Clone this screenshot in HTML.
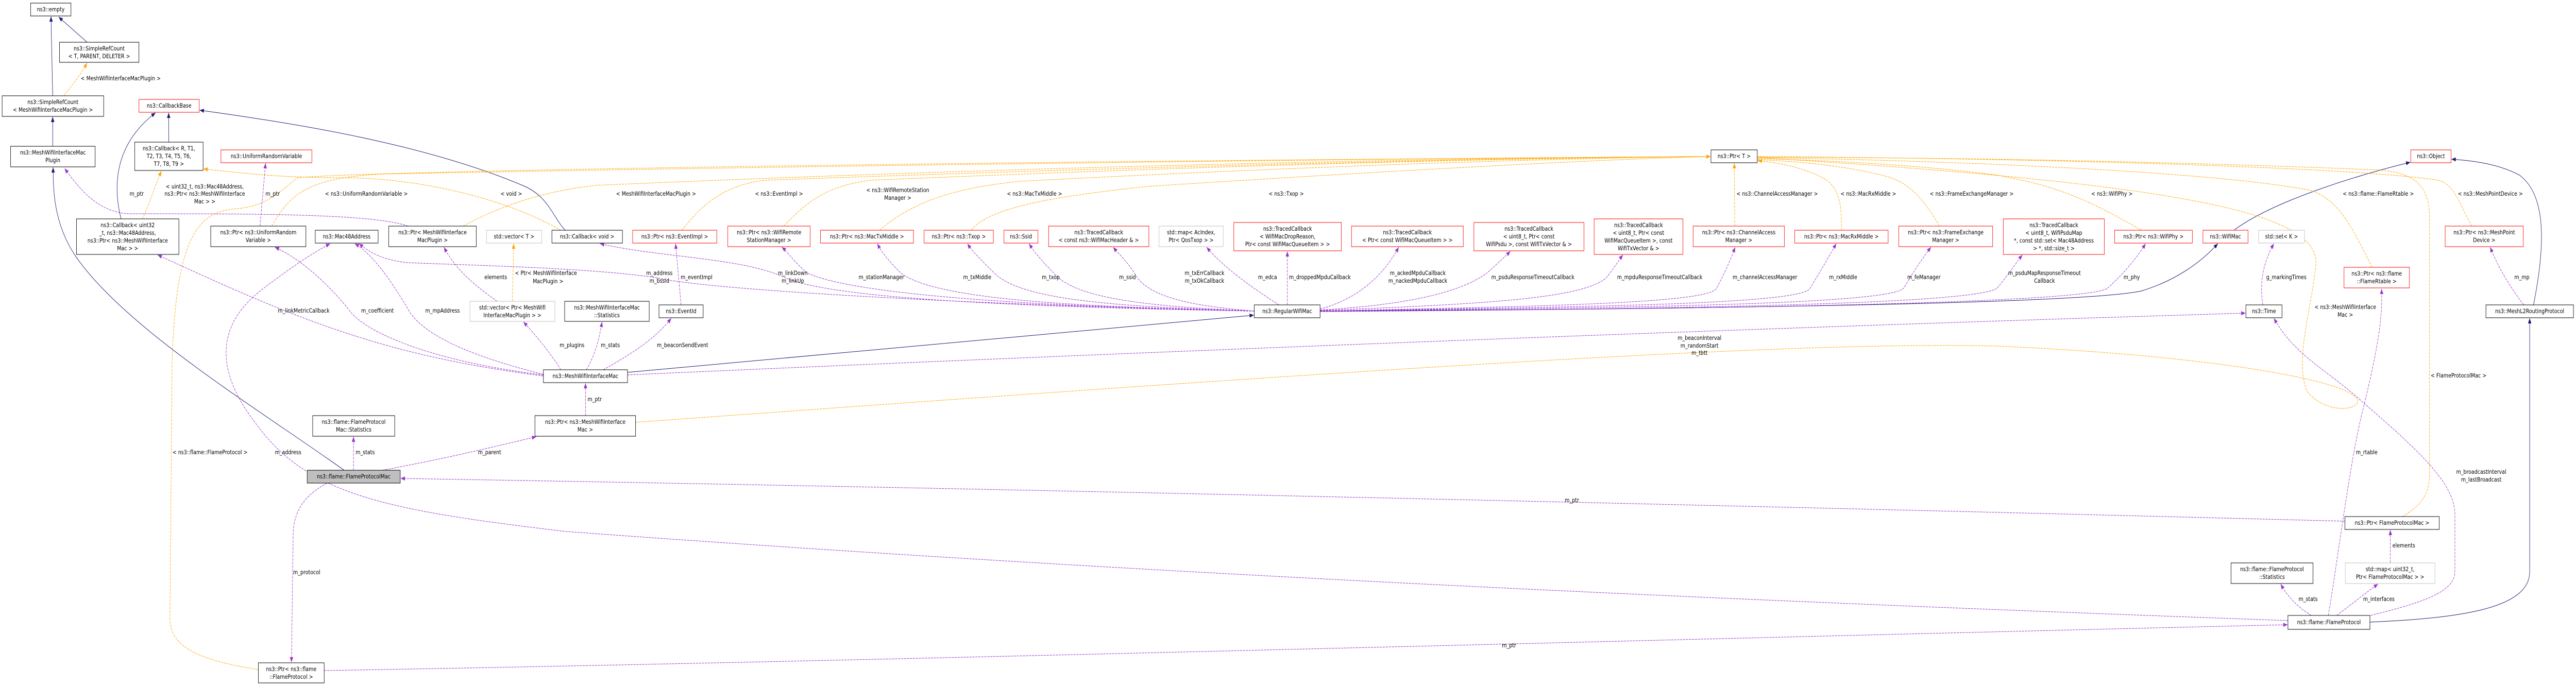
<!DOCTYPE html>
<html><head><meta charset="utf-8"><style>
html,body{margin:0;padding:0;background:#fff;overflow:hidden;width:100vw;height:100vh;}
svg{display:block;width:100vw;height:100vh;}
text{font-family:"DejaVu Sans","Liberation Sans",sans-serif;font-size:11.5px;fill:#000;}
.b{fill:#fff;stroke:#000;stroke-width:1}
.r{fill:#fff;stroke:#ff0000;stroke-width:1}
.g{fill:#fff;stroke:#bfbfbf;stroke-width:1}
.n{fill:none;stroke:#191970;stroke-width:1}
.o{fill:none;stroke:#ffa500;stroke-width:1;stroke-dasharray:5,2}
.p{fill:none;stroke:#9a32cd;stroke-width:1;stroke-dasharray:5,2}
</style></head><body>
<svg viewBox="0 0 6063 1332" preserveAspectRatio="none" xmlns="http://www.w3.org/2000/svg">
<defs>
<marker id="an" markerWidth="10" markerHeight="8" refX="10" refY="4" orient="auto" markerUnits="userSpaceOnUse"><path d="M0,0 L10,4 L0,8 z" fill="#191970"/></marker>
<marker id="ao" markerWidth="10" markerHeight="8" refX="10" refY="4" orient="auto" markerUnits="userSpaceOnUse"><path d="M0,0 L10,4 L0,8 z" fill="#ffa500"/></marker>
<marker id="ap" markerWidth="10" markerHeight="8" refX="10" refY="4" orient="auto" markerUnits="userSpaceOnUse"><path d="M0,0 L10,4 L0,8 z" fill="#9a32cd"/></marker>
</defs>

<g class="n">
<path d="M124,186 L120,32" marker-end="url(#an)"/>
<path d="M205,82 L138,33" marker-end="url(#an)"/>
<path d="M124,284 L124,227" marker-end="url(#an)"/>
<path d="M397,276 L397,219" marker-end="url(#an)"/>
<path d="M285,425 C265,360 270,280 366,219" marker-end="url(#an)"/>
<path d="M1330,447 C1300,420 1290,380 1230,360 C1000,280 700,240 470,214" marker-end="url(#an)"/>
<path d="M810,913 C600,790 300,640 180,500 C130,440 125,380 125,325" marker-end="url(#an)"/>
<path d="M1477,723 L2951,612" marker-end="url(#an)"/>
<path d="M3107,604 C4000,600 4900,590 5040,565 C5120,545 5180,510 5220,473" marker-end="url(#an)"/>
<path d="M5258,447 C5350,390 5550,340 5673,315" marker-end="url(#an)"/>
<path d="M5963,592 C5990,480 5995,380 5930,340 C5880,318 5820,312 5770,309" marker-end="url(#an)"/>
<path d="M5578,1208 C5800,1200 5954,1180 5954,1110 L5954,618" marker-end="url(#an)"/>
</g>

<g class="o">
<path d="M150,186 C170,165 190,145 205,122" marker-end="url(#ao)"/>
<path d="M335,425 C350,400 365,360 380,332" marker-end="url(#ao)"/>
<path d="M1320,447 C1200,390 1000,345 800,345 C650,345 560,335 479,328" marker-end="url(#ao)"/>
<path d="M1206,585 L1209,473" marker-end="url(#ao)"/>
<path d="M640,439 C680,380 720,345 900,338 C2000,320 3500,306 4026,304" marker-end="url(#ao)"/>
<path d="M608,1300 C450,1280 400,1250 400,1200 L405,700 C415,450 470,410 560,405 C620,400 650,380 700,345 C900,330 2500,312 4026,304" marker-end="url(#ao)"/>
<path d="M1090,439 C1200,390 1300,370 1400,360 C2500,320 3500,306 4026,304"/>
<path d="M1605,447 C1650,400 1700,360 1800,350 C2800,320 3600,306 4026,304"/>
<path d="M1845,439 C1900,390 1950,360 2050,350 C2900,320 3600,306 4026,304"/>
<path d="M2070,447 C2150,390 2250,365 2400,352 C3100,322 3700,306 4026,304"/>
<path d="M2286,447 C2330,400 2500,380 2700,362 C3300,330 3800,308 4026,304"/>
<path d="M4083,439 L4082,317" marker-end="url(#ao)"/>
<path d="M4334,447 C4335,400 4330,370 4300,350 C4250,325 4180,315 4137,312" marker-end="url(#ao)"/>
<path d="M4565,439 C4530,390 4500,360 4450,345 C4350,320 4200,312 4137,310"/>
<path d="M5040,447 C4900,380 4830,360 4700,340 C4500,318 4250,310 4137,308"/>
<path d="M5583,519 C5540,450 5510,390 5440,370 C5200,330 4500,310 4137,306"/>
<path d="M1496,820 C3000,730 4200,660 4700,672 C5200,690 5550,740 5550,780 C5540,800 5470,800 5430,760 C5400,700 5440,600 5450,520 C5470,420 5200,360 4137,306"/>
<path d="M5655,1003 C5700,980 5718,960 5718,920 L5718,420 C5718,360 5680,335 5600,330 C5000,310 4500,306 4137,305"/>
<path d="M5818,439 C5790,400 5780,360 5740,350 C5500,320 4600,306 4137,304"/>
</g>

<g class="p">
<path d="M1279,730 C900,690 700,620 371,495" marker-end="url(#ap)"/>
<path d="M1279,728 C1000,700 850,640 820,600 C760,540 700,500 647,480" marker-end="url(#ap)"/>
<path d="M1279,727 C1150,700 1000,660 960,600 C910,530 870,490 835,473" marker-end="url(#ap)"/>
<path d="M1320,718 C1300,690 1260,650 1232,625" marker-end="url(#ap)"/>
<path d="M1380,718 C1400,690 1410,660 1417,625" marker-end="url(#ap)"/>
<path d="M1420,718 C1480,690 1540,660 1580,618" marker-end="url(#ap)"/>
<path d="M1170,585 C1110,550 1070,520 1045,480" marker-end="url(#ap)"/>
<path d="M960,439 C880,415 600,415 300,415 C230,410 190,370 152,327" marker-end="url(#ap)"/>
<path d="M612,439 L625,317" marker-end="url(#ap)"/>
<path d="M1603,592 L1590,473" marker-end="url(#ap)"/>
<path d="M2952,604 C2200,590 1650,560 1550,540 C1400,520 1100,515 960,510 C900,505 870,490 845,473" marker-end="url(#ap)"/>
<path d="M2952,604 C2300,595 1950,575 1850,540 C1750,500 1550,500 1412,473" marker-end="url(#ap)"/>
<path d="M2952,604 C2400,595 2000,570 1900,530 C1870,510 1855,490 1840,480" marker-end="url(#ap)"/>
<path d="M2952,604 C2500,595 2200,580 2120,530 C2090,505 2075,490 2065,473" marker-end="url(#ap)"/>
<path d="M2952,604 C2600,595 2400,580 2340,530 C2310,505 2290,490 2277,473" marker-end="url(#ap)"/>
<path d="M2952,604 C2700,595 2530,580 2480,530 C2450,505 2435,490 2422,473" marker-end="url(#ap)"/>
<path d="M2952,604 C2820,595 2700,580 2670,530 C2650,505 2630,490 2620,480" marker-end="url(#ap)"/>
<path d="M3010,592 C2950,560 2880,520 2840,480" marker-end="url(#ap)"/>
<path d="M3030,592 L3030,488" marker-end="url(#ap)"/>
<path d="M3107,600 C3200,580 3260,530 3292,480" marker-end="url(#ap)"/>
<path d="M3107,602 C3350,590 3450,560 3500,530 C3520,515 3540,500 3555,488" marker-end="url(#ap)"/>
<path d="M3107,603 C3500,590 3720,580 3780,540 C3800,520 3810,505 3820,495" marker-end="url(#ap)"/>
<path d="M3107,604 C3600,595 4020,590 4040,560 C4060,530 4075,500 4084,480" marker-end="url(#ap)"/>
<path d="M3107,604 C3700,596 4240,592 4260,560 C4290,520 4310,490 4322,473" marker-end="url(#ap)"/>
<path d="M3107,604 C3800,598 4440,592 4480,560 C4510,520 4530,495 4545,480" marker-end="url(#ap)"/>
<path d="M3107,605 C3900,600 4640,592 4700,560 C4730,530 4750,505 4760,495" marker-end="url(#ap)"/>
<path d="M3107,605 C4000,600 4900,590 4960,560 C5000,530 5030,500 5050,473" marker-end="url(#ap)"/>
<path d="M5326,592 C5320,560 5320,520 5352,473" marker-end="url(#ap)"/>
<path d="M1477,728 C2500,690 4000,640 5285,608" marker-end="url(#ap)"/>
<path d="M5580,1195 C5700,1170 5778,1150 5778,1110 L5778,1000 C5778,940 5700,880 5560,780 C5480,720 5400,690 5352,618" marker-end="url(#ap)"/>
<path d="M5480,1195 C5500,1100 5530,900 5560,800 C5590,700 5610,620 5605,561" marker-end="url(#ap)"/>
<path d="M5440,1195 C5410,1180 5385,1160 5368,1134" marker-end="url(#ap)"/>
<path d="M5500,1195 C5540,1170 5570,1150 5597,1134" marker-end="url(#ap)"/>
<path d="M5626,1093 L5626,1029" marker-end="url(#ap)"/>
<path d="M5940,592 C5910,560 5880,520 5861,480" marker-end="url(#ap)"/>
<path d="M832,913 L832,848" marker-end="url(#ap)"/>
<path d="M900,913 C1050,890 1150,870 1262,848" marker-end="url(#ap)"/>
<path d="M5519,1012 C4500,990 2500,950 943,929" marker-end="url(#ap)"/>
<path d="M1378,807 L1378,744" marker-end="url(#ap)"/>
<path d="M770,938 C720,960 690,990 690,1040 L686,1286" marker-end="url(#ap)"/>
<path d="M763,1302 C2000,1285 4000,1240 5384,1213" marker-end="url(#ap)"/>
<path d="M5385,1205 C4000,1164 2664,1113 1332,1032 C900,990 722,960 600,820 C480,690 540,610 620,560 C700,510 740,490 777,473" marker-end="url(#ap)"/>
</g>

<g>
<rect class="b" x="72" y="6" width="95" height="25"/><text x="119.5" y="22" text-anchor="middle">ns3::empty</text>
<rect class="b" x="140" y="82" width="187" height="39"/><text x="233.5" y="98" text-anchor="middle">ns3::SimpleRefCount</text><text x="233.5" y="113" text-anchor="middle">&lt; T, PARENT, DELETER &gt;</text>
<rect class="b" x="5" y="186" width="239" height="40"/><text x="124.5" y="202" text-anchor="middle">ns3::SimpleRefCount</text><text x="124.5" y="217" text-anchor="middle">&lt; MeshWifiInterfaceMacPlugin &gt;</text>
<rect class="r" x="327" y="193" width="142" height="25"/><text x="398" y="209" text-anchor="middle">ns3::CallbackBase</text>
<rect class="b" x="25" y="284" width="199" height="40"/><text x="124.5" y="300" text-anchor="middle">ns3::MeshWifiInterfaceMac</text><text x="124.5" y="315" text-anchor="middle">Plugin</text>
<rect class="b" x="317" y="276" width="161" height="55"/><text x="397.5" y="292" text-anchor="middle">ns3::Callback&lt; R, T1,</text><text x="397.5" y="307" text-anchor="middle">T2, T3, T4, T5, T6,</text><text x="397.5" y="322" text-anchor="middle">T7, T8, T9 &gt;</text>
<rect class="r" x="520" y="291" width="214" height="25"/><text x="627" y="307" text-anchor="middle">ns3::UniformRandomVariable</text>
<rect class="b" x="180" y="425" width="241" height="69"/><text x="300.5" y="441" text-anchor="middle">ns3::Callback&lt; uint32</text><text x="300.5" y="456" text-anchor="middle">_t, ns3::Mac48Address,</text><text x="300.5" y="471" text-anchor="middle">ns3::Ptr&lt; ns3::MeshWifiInterface</text><text x="300.5" y="486" text-anchor="middle">Mac &gt; &gt;</text>
<rect class="b" x="496" y="439" width="224" height="40"/><text x="608" y="455" text-anchor="middle">ns3::Ptr&lt; ns3::UniformRandom</text><text x="608" y="470" text-anchor="middle">Variable &gt;</text>
<rect class="b" x="742" y="447" width="148" height="25"/><text x="816" y="463" text-anchor="middle">ns3::Mac48Address</text>
<rect class="b" x="915" y="439" width="206" height="40"/><text x="1018" y="455" text-anchor="middle">ns3::Ptr&lt; MeshWifiInterface</text><text x="1018" y="470" text-anchor="middle">MacPlugin &gt;</text>
<rect class="g" x="1145" y="447" width="130" height="25"/><text x="1210" y="463" text-anchor="middle">std::vector&lt; T &gt;</text>
<rect class="b" x="1299" y="447" width="166" height="25"/><text x="1382" y="463" text-anchor="middle">ns3::Callback&lt; void &gt;</text>
<rect class="r" x="1489" y="447" width="198" height="25"/><text x="1588" y="463" text-anchor="middle">ns3::Ptr&lt; ns3::EventImpl &gt;</text>
<rect class="r" x="1713" y="439" width="194" height="40"/><text x="1810" y="455" text-anchor="middle">ns3::Ptr&lt; ns3::WifiRemote</text><text x="1810" y="470" text-anchor="middle">StationManager &gt;</text>
<rect class="r" x="1931" y="447" width="219" height="25"/><text x="2040.5" y="463" text-anchor="middle">ns3::Ptr&lt; ns3::MacTxMiddle &gt;</text>
<rect class="r" x="2175" y="447" width="163" height="25"/><text x="2256.5" y="463" text-anchor="middle">ns3::Ptr&lt; ns3::Txop &gt;</text>
<rect class="r" x="2363" y="447" width="80" height="25"/><text x="2403" y="463" text-anchor="middle">ns3::Ssid</text>
<rect class="r" x="2468" y="439" width="236" height="40"/><text x="2586" y="455" text-anchor="middle">ns3::TracedCallback</text><text x="2586" y="470" text-anchor="middle">&lt; const ns3::WifiMacHeader &amp; &gt;</text>
<rect class="g" x="2728" y="439" width="151" height="40"/><text x="2803.5" y="455" text-anchor="middle">std::map&lt; AcIndex,</text><text x="2803.5" y="470" text-anchor="middle">Ptr&lt; QosTxop &gt; &gt;</text>
<rect class="r" x="2904" y="432" width="253" height="55"/><text x="3030.5" y="448" text-anchor="middle">ns3::TracedCallback</text><text x="3030.5" y="463" text-anchor="middle">&lt; WifiMacDropReason,</text><text x="3030.5" y="478" text-anchor="middle">Ptr&lt; const WifiMacQueueItem &gt; &gt;</text>
<rect class="r" x="3181" y="439" width="263" height="40"/><text x="3312.5" y="455" text-anchor="middle">ns3::TracedCallback</text><text x="3312.5" y="470" text-anchor="middle">&lt; Ptr&lt; const WifiMacQueueItem &gt; &gt;</text>
<rect class="r" x="3469" y="432" width="259" height="55"/><text x="3598.5" y="448" text-anchor="middle">ns3::TracedCallback</text><text x="3598.5" y="463" text-anchor="middle">&lt; uint8_t, Ptr&lt; const</text><text x="3598.5" y="478" text-anchor="middle">WifiPsdu &gt;, const WifiTxVector &amp; &gt;</text>
<rect class="r" x="3752" y="425" width="209" height="69"/><text x="3856.5" y="441" text-anchor="middle">ns3::TracedCallback</text><text x="3856.5" y="456" text-anchor="middle">&lt; uint8_t, Ptr&lt; const</text><text x="3856.5" y="471" text-anchor="middle">WifiMacQueueItem &gt;, const</text><text x="3856.5" y="486" text-anchor="middle">WifiTxVector &amp; &gt;</text>
<rect class="b" x="4027" y="291" width="109" height="25"/><text x="4081.5" y="307" text-anchor="middle">ns3::Ptr&lt; T &gt;</text>
<rect class="r" x="3985" y="439" width="215" height="40"/><text x="4092.5" y="455" text-anchor="middle">ns3::Ptr&lt; ns3::ChannelAccess</text><text x="4092.5" y="470" text-anchor="middle">Manager &gt;</text>
<rect class="r" x="4224" y="447" width="220" height="25"/><text x="4334" y="463" text-anchor="middle">ns3::Ptr&lt; ns3::MacRxMiddle &gt;</text>
<rect class="r" x="4469" y="439" width="221" height="40"/><text x="4579.5" y="455" text-anchor="middle">ns3::Ptr&lt; ns3::FrameExchange</text><text x="4579.5" y="470" text-anchor="middle">Manager &gt;</text>
<rect class="r" x="4715" y="425" width="238" height="69"/><text x="4834" y="441" text-anchor="middle">ns3::TracedCallback</text><text x="4834" y="456" text-anchor="middle">&lt; uint8_t, WifiPsduMap</text><text x="4834" y="471" text-anchor="middle">*, const std::set&lt; Mac48Address</text><text x="4834" y="486" text-anchor="middle">&gt; *, std::size_t &gt;</text>
<rect class="r" x="4977" y="447" width="183" height="25"/><text x="5068.5" y="463" text-anchor="middle">ns3::Ptr&lt; ns3::WifiPhy &gt;</text>
<rect class="r" x="5185" y="447" width="106" height="25"/><text x="5238" y="463" text-anchor="middle">ns3::WifiMac</text>
<rect class="g" x="5316" y="447" width="108" height="25"/><text x="5370" y="463" text-anchor="middle">std::set&lt; K &gt;</text>
<rect class="r" x="5674" y="291" width="95" height="25"/><text x="5721.5" y="307" text-anchor="middle">ns3::Object</text>
<rect class="r" x="5755" y="439" width="184" height="40"/><text x="5847" y="455" text-anchor="middle">ns3::Ptr&lt; ns3::MeshPoint</text><text x="5847" y="470" text-anchor="middle">Device &gt;</text>
<rect class="r" x="5517" y="519" width="154" height="40"/><text x="5594" y="535" text-anchor="middle">ns3::Ptr&lt; ns3::flame</text><text x="5594" y="550" text-anchor="middle">::FlameRtable &gt;</text>
<rect class="b" x="5286" y="592" width="85" height="25"/><text x="5328.5" y="608" text-anchor="middle">ns3::Time</text>
<rect class="b" x="5851" y="592" width="206" height="25"/><text x="5954" y="608" text-anchor="middle">ns3::MeshL2RoutingProtocol</text>
<rect class="g" x="1106" y="585" width="200" height="39"/><text x="1206" y="601" text-anchor="middle">std::vector&lt; Ptr&lt; MeshWifi</text><text x="1206" y="616" text-anchor="middle">InterfaceMacPlugin &gt; &gt;</text>
<rect class="b" x="1329" y="585" width="199" height="39"/><text x="1428.5" y="601" text-anchor="middle">ns3::MeshWifiInterfaceMac</text><text x="1428.5" y="616" text-anchor="middle">::Statistics</text>
<rect class="b" x="1551" y="592" width="104" height="25"/><text x="1603" y="608" text-anchor="middle">ns3::EventId</text>
<rect class="b" x="2952" y="592" width="155" height="25"/><text x="3029.5" y="608" text-anchor="middle">ns3::RegularWifiMac</text>
<rect class="b" x="1279" y="718" width="198" height="25"/><text x="1378" y="734" text-anchor="middle">ns3::MeshWifiInterfaceMac</text>
<rect class="b" x="1259" y="807" width="237" height="40"/><text x="1377.5" y="823" text-anchor="middle">ns3::Ptr&lt; ns3::MeshWifiInterface</text><text x="1377.5" y="838" text-anchor="middle">Mac &gt;</text>
<rect class="b" x="736" y="807" width="193" height="40"/><text x="832.5" y="823" text-anchor="middle">ns3::flame::FlameProtocol</text><text x="832.5" y="838" text-anchor="middle">Mac::Statistics</text>
<rect x="723" y="913" width="219" height="25" fill="#bfbfbf" stroke="#000"/><text x="832.5" y="929" text-anchor="middle">ns3::flame::FlameProtocolMac</text>
<rect class="b" x="608" y="1287" width="155" height="39"/><text x="685.5" y="1303" text-anchor="middle">ns3::Ptr&lt; ns3::flame</text><text x="685.5" y="1318" text-anchor="middle">::FlameProtocol &gt;</text>
<rect class="b" x="5519" y="1003" width="222" height="25"/><text x="5630" y="1019" text-anchor="middle">ns3::Ptr&lt; FlameProtocolMac &gt;</text>
<rect class="g" x="5520" y="1093" width="211" height="40"/><text x="5625.5" y="1109" text-anchor="middle">std::map&lt; uint32_t,</text><text x="5625.5" y="1124" text-anchor="middle">Ptr&lt; FlameProtocolMac &gt; &gt;</text>
<rect class="b" x="5251" y="1093" width="193" height="40"/><text x="5347.5" y="1109" text-anchor="middle">ns3::flame::FlameProtocol</text><text x="5347.5" y="1124" text-anchor="middle">::Statistics</text>
<rect class="b" x="5385" y="1195" width="193" height="27"/><text x="5481.5" y="1212" text-anchor="middle">ns3::flame::FlameProtocol</text>
</g>

<g>
<text x="190" y="156">&lt; MeshWifiInterfaceMacPlugin &gt;</text>
<text x="482" y="366" text-anchor="middle">&lt; uint32_t, ns3::Mac48Address,</text>
<text x="482" y="380" text-anchor="middle">ns3::Ptr&lt; ns3::MeshWifiInterface</text>
<text x="482" y="395" text-anchor="middle">Mac &gt; &gt;</text>
<text x="305" y="380">m_ptr</text>
<text x="625" y="380">m_ptr</text>
<text x="765" y="380">&lt; ns3::UniformRandomVariable &gt;</text>
<text x="1178" y="380">&lt; void &gt;</text>
<text x="1450" y="380">&lt; MeshWifiInterfaceMacPlugin &gt;</text>
<text x="1777" y="380">&lt; ns3::EventImpl &gt;</text>
<text x="2113" y="373" text-anchor="middle">&lt; ns3::WifiRemoteStation</text>
<text x="2113" y="388" text-anchor="middle">Manager &gt;</text>
<text x="2370" y="380">&lt; ns3::MacTxMiddle &gt;</text>
<text x="2986" y="380">&lt; ns3::Txop &gt;</text>
<text x="4087" y="380">&lt; ns3::ChannelAccessManager &gt;</text>
<text x="4332" y="380">&lt; ns3::MacRxMiddle &gt;</text>
<text x="4542" y="380">&lt; ns3::FrameExchangeManager &gt;</text>
<text x="4922" y="380">&lt; ns3::WifiPhy &gt;</text>
<text x="5514" y="380">&lt; ns3::flame::FlameRtable &gt;</text>
<text x="5785" y="380">&lt; ns3::MeshPointDevice &gt;</text>
<text x="1140" y="542">elements</text>
<text x="1212" y="534">&lt; Ptr&lt; MeshWifiInterface</text>
<text x="1290" y="550" text-anchor="middle">MacPlugin &gt;</text>
<text x="1552" y="534" text-anchor="middle">m_address</text>
<text x="1552" y="549" text-anchor="middle">m_bssid</text>
<text x="1602" y="542">m_eventImpl</text>
<text x="1866" y="534" text-anchor="middle">m_linkDown</text>
<text x="1866" y="549" text-anchor="middle">m_linkUp</text>
<text x="2021" y="542">m_stationManager</text>
<text x="2267" y="542">m_txMiddle</text>
<text x="2452" y="542">m_txop</text>
<text x="2634" y="542">m_ssid</text>
<text x="2835" y="534" text-anchor="middle">m_txErrCallback</text>
<text x="2835" y="549" text-anchor="middle">m_txOkCallback</text>
<text x="2961" y="542">m_edca</text>
<text x="3034" y="542">m_droppedMpduCallback</text>
<text x="3337" y="534" text-anchor="middle">m_ackedMpduCallback</text>
<text x="3337" y="549" text-anchor="middle">m_nackedMpduCallback</text>
<text x="3510" y="542">m_psduResponseTimeoutCallback</text>
<text x="3806" y="542">m_mpduResponseTimeoutCallback</text>
<text x="4078" y="542">m_channelAccessManager</text>
<text x="4305" y="542">m_rxMiddle</text>
<text x="4489" y="542">m_feManager</text>
<text x="4812" y="534" text-anchor="middle">m_psduMapResponseTimeout</text>
<text x="4812" y="549" text-anchor="middle">Callback</text>
<text x="4998" y="542">m_phy</text>
<text x="5334" y="542">g_markingTimes</text>
<text x="5918" y="542">m_mp</text>
<text x="654" y="607">m_linkMetricCallback</text>
<text x="850" y="607">m_coefficient</text>
<text x="1001" y="607">m_mpAddress</text>
<text x="1317" y="674">m_plugins</text>
<text x="1414" y="674">m_stats</text>
<text x="1546" y="674">m_beaconSendEvent</text>
<text x="4000" y="660" text-anchor="middle">m_beaconInterval</text>
<text x="4000" y="675" text-anchor="middle">m_randomStart</text>
<text x="4000" y="689" text-anchor="middle">m_tbtt</text>
<text x="1383" y="779">m_ptr</text>
<text x="5520" y="600" text-anchor="middle">&lt; ns3::MeshWifiInterface</text>
<text x="5520" y="615" text-anchor="middle">Mac &gt;</text>
<text x="5721" y="733">&lt; FlameProtocolMac &gt;</text>
<text x="406" y="882">&lt; ns3::flame::FlameProtocol &gt;</text>
<text x="647" y="882">m_address</text>
<text x="837" y="882">m_stats</text>
<text x="1125" y="882">m_parent</text>
<text x="5545" y="882">m_rtable</text>
<text x="5840" y="920" text-anchor="middle">m_broadcastInterval</text>
<text x="5840" y="935" text-anchor="middle">m_lastBroadcast</text>
<text x="3683" y="975">m_ptr</text>
<text x="5631" y="1063">elements</text>
<text x="690" y="1115">m_protocol</text>
<text x="5410" y="1167">m_stats</text>
<text x="5562" y="1167">m_interfaces</text>
<text x="3535" y="1257">m_ptr</text>
</g>
</svg>
</body></html>
